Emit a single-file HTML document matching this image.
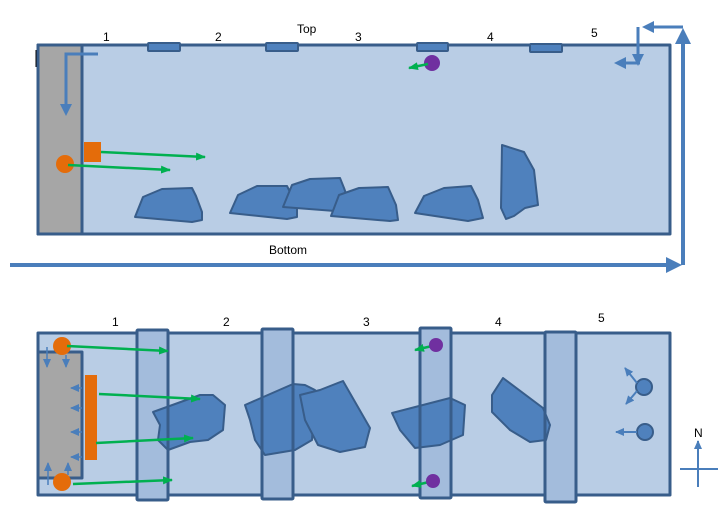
<!DOCTYPE html>
<html><head><style>html,body{margin:0;padding:0;background:#fff}svg{display:block}</style></head><body>
<svg width="724" height="526" viewBox="0 0 724 526" xmlns="http://www.w3.org/2000/svg" font-family="Liberation Sans, sans-serif" font-size="12">
<defs>
<marker id="g" markerWidth="10" markerHeight="8" refX="9" refY="4" orient="auto" markerUnits="userSpaceOnUse"><path d="M0,0 L10,4 L0,8 Z" fill="#00b050"/></marker>
<marker id="b" markerWidth="4" markerHeight="4" refX="3" refY="2" orient="auto" markerUnits="strokeWidth"><path d="M0,0 L4,2 L0,4 Z" fill="#4a7ebb"/></marker>
<marker id="bs" markerWidth="9" markerHeight="8" refX="8" refY="4" orient="auto" markerUnits="userSpaceOnUse"><path d="M0,0 L9,4 L0,8 Z" fill="#4a7ebb"/></marker>
</defs>
<g stroke="#385d8a" stroke-width="3" stroke-linejoin="round">
<rect x="38" y="45" width="632" height="189" fill="#b9cde5"/>
<rect x="38" y="45" width="44" height="189" fill="#a6a6a6"/>
<rect x="148" y="43" width="32" height="8" rx="1" fill="#4f81bd" stroke-width="2"/>
<rect x="266" y="43" width="32" height="8" rx="1" fill="#4f81bd" stroke-width="2"/>
<rect x="417" y="43" width="31" height="8" rx="1" fill="#4f81bd" stroke-width="2"/>
<rect x="530" y="44" width="32" height="8" rx="1" fill="#4f81bd" stroke-width="2"/>
<g fill="#4f81bd" stroke-width="2">
<polygon points="135,217 143,197 162,189 192,188 196,196 202,212 202,220 192,222"/>
<polygon points="230,213 238,195 257,186 287,186 297,206 297,217 287,219"/>
<polygon points="283,207 292,185 310,179 340,178 344,188 350,205 335,211"/>
<polygon points="331,216 339,195 359,188 388,187 396,205 398,220 390,221"/>
<polygon points="415,213 424,196 444,188 471,186 478,200 483,218 468,221"/>
<polygon points="502,145 524,152 534,170 538,205 525,208 514,216 506,219 501,208"/>
</g>
</g>
<line x1="36" y1="50" x2="36" y2="67" stroke="#000" stroke-width="1"/>
<rect x="84" y="142" width="17" height="20" fill="#e46c0a"/>
<circle cx="65" cy="164" r="9" fill="#e46c0a"/>
<line x1="101" y1="152" x2="205" y2="157" stroke="#00b050" stroke-width="2.5" marker-end="url(#g)"/>
<line x1="68" y1="165" x2="170" y2="170" stroke="#00b050" stroke-width="2.5" marker-end="url(#g)"/>
<circle cx="432" cy="63" r="8" fill="#7030a0"/>
<line x1="428" y1="64" x2="409" y2="68" stroke="#00b050" stroke-width="2.5" marker-end="url(#g)"/>
<g stroke="#4a7ebb" stroke-width="3" fill="none">
<polyline points="98,54 66,54 66,113" marker-end="url(#b)"/>
<polyline points="683,27 645,27" marker-end="url(#b)"/>
<polyline points="638,27 638,63" marker-end="url(#b)"/>
<polyline points="640,63 617,63" marker-end="url(#b)"/>
<line x1="683" y1="265" x2="683" y2="32" stroke-width="4" marker-end="url(#b)"/>
<line x1="10" y1="265" x2="678" y2="265" stroke-width="4" marker-end="url(#b)"/>
</g>
<text x="103" y="41">1</text><text x="215" y="41">2</text><text x="297" y="33">Top</text><text x="355" y="41">3</text><text x="487" y="41">4</text><text x="591" y="37">5</text>
<text x="269" y="254">Bottom</text>

<g stroke="#385d8a" stroke-width="3" stroke-linejoin="round">
<rect x="38" y="333" width="632" height="162" fill="#b9cde5"/>
<rect x="38" y="352" width="44" height="126" fill="#a6a6a6"/>
<g fill="#a3bcdc" stroke="none">
<rect x="137" y="330" width="31" height="170"/>
<rect x="262" y="329" width="31" height="170"/>
<rect x="420" y="328" width="31" height="170"/>
<rect x="545" y="332" width="31" height="170"/>
</g>
<g fill="#4f81bd" stroke-width="2">
<polygon points="153,412 200,395 213,395 225,405 223,430 208,440 190,442 168,450 158,440 160,425"/>
<polygon points="245,405 293,384 305,385 315,390 312,440 295,450 265,455 255,440 250,420"/>
<polygon points="300,395 320,390 343,381 370,428 365,447 340,452 318,445 305,420"/>
<polygon points="392,413 450,398 465,405 463,435 440,445 415,448 400,430"/>
<polygon points="503,378 543,408 550,425 546,440 530,442 510,430 492,412 492,395"/>
</g>
<g fill="none">
<rect x="137" y="330" width="31" height="170" rx="1"/>
<rect x="262" y="329" width="31" height="170" rx="1"/>
<rect x="420" y="328" width="31" height="170" rx="1"/>
<rect x="545" y="332" width="31" height="170" rx="1"/>
</g>
</g>
<rect x="85" y="375" width="12" height="85" fill="#e46c0a"/>
<circle cx="62" cy="346" r="9" fill="#e46c0a"/>
<circle cx="62" cy="482" r="9" fill="#e46c0a"/>
<g stroke="#00b050" stroke-width="2.5" marker-end="url(#g)">
<line x1="67" y1="346" x2="168" y2="351"/>
<line x1="99" y1="394" x2="200" y2="399"/>
<line x1="96" y1="443" x2="193" y2="438"/>
<line x1="73" y1="484" x2="172" y2="480"/>
<line x1="432" y1="346" x2="415" y2="350"/>
<line x1="429" y1="482" x2="412" y2="486"/>
</g>
<circle cx="436" cy="345" r="7" fill="#7030a0"/>
<circle cx="433" cy="481" r="7" fill="#7030a0"/>
<g stroke="#4a7ebb" stroke-width="1.5" marker-end="url(#bs)">
<line x1="47" y1="347" x2="47" y2="367"/><line x1="66" y1="355" x2="66" y2="367"/>
<line x1="82" y1="388" x2="71" y2="388"/><line x1="82" y1="408" x2="71" y2="408"/>
<line x1="82" y1="432" x2="71" y2="432"/><line x1="82" y1="457" x2="71" y2="457"/>
<line x1="48" y1="485" x2="48" y2="463"/><line x1="68" y1="475" x2="68" y2="463"/>
</g>
<g stroke="#385d8a" stroke-width="2" fill="#4f81bd">
<circle cx="644" cy="387" r="8"/><circle cx="645" cy="432" r="8"/>
</g>
<g stroke="#4a7ebb" stroke-width="2" marker-end="url(#bs)">
<line x1="637" y1="383" x2="625" y2="368"/>
<line x1="637" y1="391" x2="626" y2="404"/>
<line x1="637" y1="432" x2="616" y2="432"/>
<line x1="698" y1="487" x2="698" y2="441"/>
</g>
<line x1="680" y1="469" x2="718" y2="469" stroke="#4a7ebb" stroke-width="2"/>
<text x="694" y="437">N</text>
<text x="112" y="326">1</text><text x="223" y="326">2</text><text x="363" y="326">3</text><text x="495" y="326">4</text><text x="598" y="322">5</text>
</svg>
</body></html>
